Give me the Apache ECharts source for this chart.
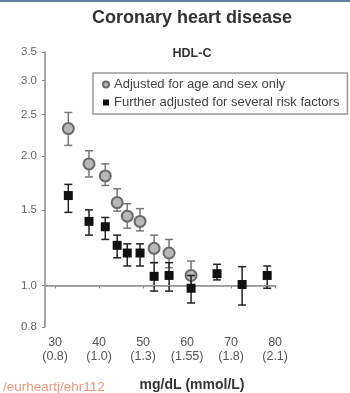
<!DOCTYPE html>
<html>
<head>
<meta charset="utf-8">
<script src="https://cdn.jsdelivr.net/npm/echarts@6/dist/echarts.min.js"></script>
<style>
html,body{margin:0;padding:0;background:#fff;}
#chart{width:350px;height:393px;}
</style>
</head>
<body>
<div id="chart"></div>
<script>
// HDL-C (mg/dL) positions of each group
var xGray  = [33.0, 37.7, 41.4, 44.1, 46.4, 49.3, 52.5, 55.9, 60.9];
var gray   = [2.32, 1.92, 1.80, 1.56, 1.45, 1.41, 1.22, 1.19, 1.055];
var grayLo = [2.12, 1.79, 1.71, 1.49, 1.36, 1.34, 1.13, 1.10, 0.98];
var grayHi = [2.53, 2.06, 1.92, 1.68, 1.55, 1.51, 1.31, 1.28, 1.14];

var xBlack  = [33.0, 37.7, 41.4, 44.1, 46.4, 49.3, 52.5, 55.9, 60.9, 66.8, 72.5, 78.2];
var black   = [1.62, 1.41, 1.37, 1.24, 1.19, 1.19, 1.05, 1.055, 0.985, 1.065, 1.005, 1.055];
var blackLo = [1.48, 1.31, 1.28, 1.16, 1.11, 1.11, 0.97, 0.97, 0.91, 1.03, 0.90, 0.985];
var blackHi = [1.72, 1.50, 1.44, 1.31, 1.25, 1.25, 1.13, 1.13, 1.055, 1.12, 1.106, 1.11];

var yTicks = [0.8, 1.0, 1.5, 2.0, 2.5, 3.0, 3.5];
var xTicks = [30, 40, 50, 60, 70, 80];
var xTickMmol = ['(0.8)', '(1.0)', '(1.3)', '(1.55)', '(1.8)', '(2.1)'];

var nameGray = 'Adjusted for age and sex only';
var nameBlack = 'Further adjusted for several risk factors';

var L = Math.log10;
function pts(xs, ys) { return xs.map(function (x, i) { return [x, L(ys[i])]; }); }
function bars(xs, lo, hi) { return xs.map(function (x, i) { return [x, L(lo[i]), L(hi[i])]; }); }

function errRender(color) {
  return function (params, api) {
    var x = api.value(0);
    var p1 = api.coord([x, api.value(1)]);
    var p2 = api.coord([x, api.value(2)]);
    var w = 4;
    var st = { stroke: color, lineWidth: 1.5 };
    return {
      type: 'group',
      children: [
        { type: 'line', shape: { x1: p1[0], y1: p1[1], x2: p2[0], y2: p2[1] }, style: st },
        { type: 'line', shape: { x1: p1[0] - w, y1: p1[1], x2: p1[0] + w, y2: p1[1] }, style: st },
        { type: 'line', shape: { x1: p2[0] - w, y1: p2[1], x2: p2[0] + w, y2: p2[1] }, style: st }
      ]
    };
  };
}

var FONT = 'Liberation Sans';
var chart = echarts.init(document.getElementById('chart'), null, { renderer: 'canvas' });
chart.setOption({
  animation: false,
  backgroundColor: '#fff',
  textStyle: { fontFamily: FONT },
  graphic: [
    { type: 'rect', left: 0, top: 0, shape: { width: 350, height: 2 }, style: { fill: '#5d7d99' } }
  ],
  title: [
    { text: 'Coronary heart disease', left: 187, top: 4, textAlign: 'center',
      textStyle: { fontFamily: FONT, fontSize: 18, fontWeight: 'bold', color: '#333' } },
    { text: 'HDL-C', left: 187, top: 42, textAlign: 'center',
      textStyle: { fontFamily: FONT, fontSize: 12.5, fontWeight: 'bold', color: '#333' } },
    { text: 'mg/dL (mmol/L)', left: 187, top: 373, textAlign: 'center',
      textStyle: { fontFamily: FONT, fontSize: 14, fontWeight: 'bold', color: '#333' } },
    { text: '/eurheartj/ehr112', left: -2, top: 375,
      textStyle: { fontFamily: FONT, fontSize: 13.5, fontWeight: 'normal', color: '#e8997c' } }
  ],
  legend: {
    orient: 'vertical',
    left: 93, top: 73,
    data: [
      { name: nameGray, icon: 'circle' },
      { name: nameBlack, icon: 'rect' }
    ],
    itemWidth: 6, itemHeight: 6, itemGap: 5,
    padding: [5, 8, 5, 9],
    borderColor: '#999', borderWidth: 1.5,
    textStyle: { fontFamily: FONT, fontSize: 13, color: '#444' }
  },
  grid: { left: 45, right: 74, top: 52, bottom: 66 },
  xAxis: {
    type: 'value', min: 27.7, max: 80.2,
    splitLine: { show: false },
    axisLine: { lineStyle: { color: '#888', width: 1.5 } },
    axisTick: { customValues: xTicks, length: 3, lineStyle: { color: '#888' } },
    axisLabel: {
      customValues: xTicks,
      color: '#555', fontSize: 12.5, lineHeight: 14, margin: 9,
      formatter: function (v) {
        var i = xTicks.indexOf(Math.round(v));
        return i < 0 ? '' : xTicks[i] + '\n' + xTickMmol[i];
      }
    }
  },
  yAxis: {
    type: 'value', min: L(0.8), max: L(3.5),
    splitLine: { show: false },
    axisLine: { lineStyle: { color: '#888', width: 1.5 } },
    axisTick: { customValues: yTicks.map(L), length: 3, lineStyle: { color: '#888' } },
    axisLabel: {
      customValues: yTicks.map(L),
      color: '#666', fontSize: 11.5, margin: 8,
      formatter: function (v) {
        var best = yTicks[0];
        yTicks.forEach(function (t) { if (Math.abs(L(t) - v) < Math.abs(L(best) - v)) best = t; });
        return best.toFixed(1);
      }
    }
  },
  series: [
    { type: 'custom', name: 'grayErr', renderItem: errRender('#777'),
      data: bars(xGray, grayLo, grayHi), z: 2, silent: true },
    { type: 'scatter', name: nameGray, data: pts(xGray, gray), symbol: 'circle', symbolSize: 11,
      itemStyle: { color: '#b8b8b8', borderColor: '#6a6a6a', borderWidth: 2, opacity: 1 }, z: 3,
      markLine: {
        silent: true, symbol: 'none', label: { show: false },
        lineStyle: { color: '#999', width: 1.2, type: 'solid' },
        data: [{ yAxis: 0 }]
      } },
    { type: 'custom', name: 'blackErr', renderItem: errRender('#222'),
      data: bars(xBlack, blackLo, blackHi), z: 4, silent: true },
    { type: 'scatter', name: nameBlack, data: pts(xBlack, black), symbol: 'rect', symbolSize: 9,
      itemStyle: { color: '#111', opacity: 1 }, z: 5 }
  ]
});
</script>
</body>
</html>
